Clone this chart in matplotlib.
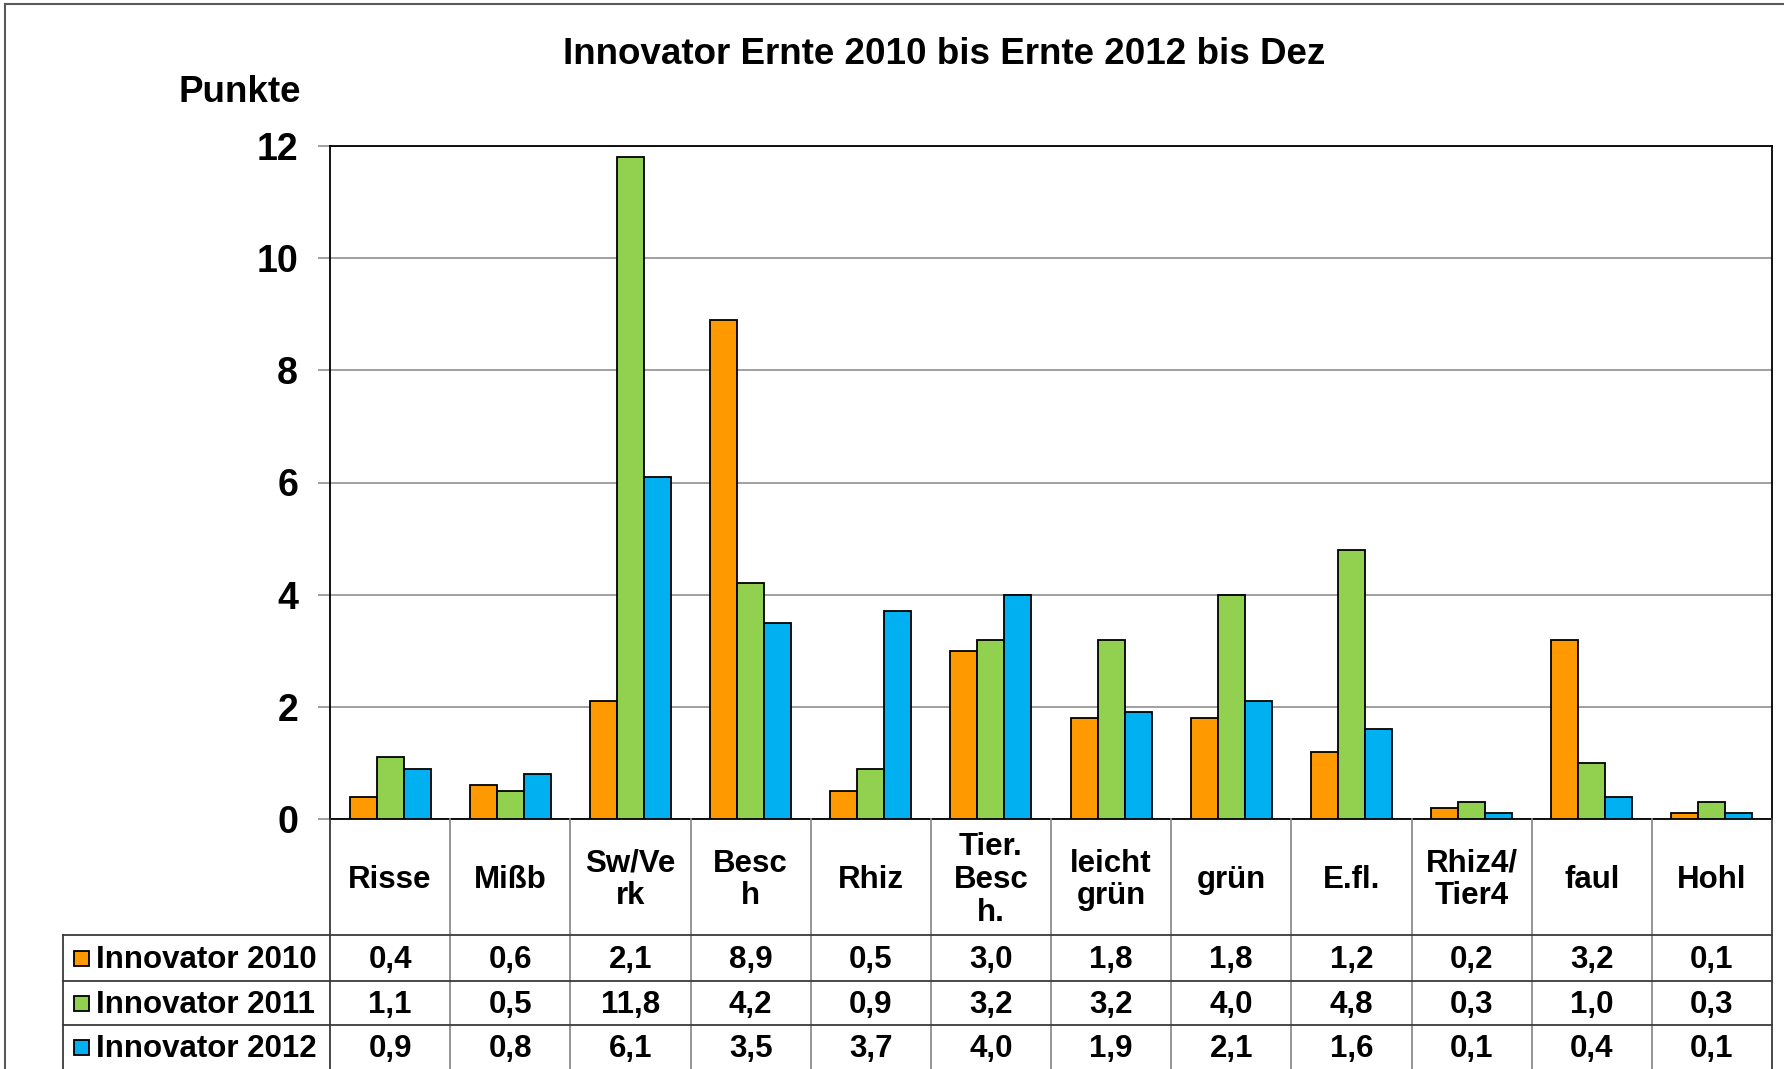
import matplotlib
matplotlib.use("Agg")
import matplotlib.pyplot as plt
from matplotlib.patches import Rectangle
from matplotlib.lines import Line2D

plt.rcParams['font.family'] = ['Liberation Sans', 'DejaVu Sans']
plt.rcParams['font.weight'] = 'bold'

title = "Innovator Ernte 2010 bis Ernte 2012 bis Dez"
ylabel = "Punkte"
categories = ["Risse", "Mißb", "Sw/Ve\nrk", "Besc\nh", "Rhiz", "Tier.\nBesc\nh.",
              "leicht\ngrün", "grün", "E.fl.", "Rhiz4/\nTier4", "faul", "Hohl"]
series_names = ["Innovator 2010", "Innovator 2011", "Innovator 2012"]
v2010 = [0.4, 0.6, 2.1, 8.9, 0.5, 3.0, 1.8, 1.8, 1.2, 0.2, 3.2, 0.1]
v2011 = [1.1, 0.5, 11.8, 4.2, 0.9, 3.2, 3.2, 4.0, 4.8, 0.3, 1.0, 0.3]
v2012 = [0.9, 0.8, 6.1, 3.5, 3.7, 4.0, 1.9, 2.1, 1.6, 0.1, 0.4, 0.1]
yticks = [0, 2, 4, 6, 8, 10, 12]
colors = ["#FF9900", "#92D050", "#00B0F0"]

series = [v2010, v2011, v2012]

W, H = 1784, 1069
fig = plt.figure(figsize=(W / 100, H / 100), dpi=100)

def fx(px):
    return px / W

def fy(py):
    return 1 - py / H

# main axes (pixel layout)
L, R, T, B = 330, 1772, 146, 819
ax = fig.add_axes([fx(L), fy(B), fx(R - L), (B - T) / H])
n = len(categories)
bw = 0.225
for k, (vals, c) in enumerate(zip(series, colors)):
    xs = [i + (k - 1) * bw for i in range(n)]
    ax.bar(xs, vals, width=bw, color=c, edgecolor='black', linewidth=1.3, zorder=3)

ax.set_xlim(-0.5, n - 0.5)
ax.set_ylim(0, 12)
ax.set_yticks(yticks)
ax.set_yticklabels([str(t) for t in yticks], fontsize=27, fontweight='bold')
ax.set_xticks([])
ax.yaxis.grid(True, color='#868686', linewidth=1.1, zorder=0)
ax.set_axisbelow(True)
for s in ['top', 'left', 'bottom', 'right']:
    ax.spines[s].set_color('black')
    ax.spines[s].set_linewidth(1.3)
ax.tick_params(axis='y', length=9, width=1.1, color='#868686', pad=14)

# title and y label
fig.text(fx(944), fy(54), title, fontsize=26.5, fontweight='bold', ha='center', va='center')
fig.text(fx(240), fy(92), ylabel, fontsize=26.5, fontweight='bold', ha='center', va='center')

# table axes
TL = 63
colw = (R - L) / n
x_left = -0.5 - (L - TL) / colw
tab = fig.add_axes([fx(TL), 0, fx(R - TL), (H - B) / H])
tab.set_xlim(x_left, n - 0.5)
tab.set_ylim(H - B, 0)
tab.axis('off')

hdr = 116
rows = [hdr, hdr + 46, hdr + 90, hdr + 134]
bottom = H - B + 5
lc = '#3a3a3a'
gc = '#8c8c8c'
# vertical lines between categories
for k in range(n + 1):
    xk = -0.5 + k
    tab.add_line(Line2D([xk, xk], [0, bottom], color=gc if k not in (0, n) else lc,
                        linewidth=1.3, clip_on=False))
# legend column left border
tab.add_line(Line2D([x_left, x_left], [hdr, bottom], color=lc, linewidth=1.3, clip_on=False))
# horizontal row lines
for yy in rows[:3]:
    tab.add_line(Line2D([x_left, n - 0.5], [yy, yy], color=lc, linewidth=1.3, clip_on=False))

# category labels
for i, cat in enumerate(categories):
    tab.text(i, hdr / 2 + 3, cat, fontsize=22.5, fontweight='bold', ha='center', va='center',
             linespacing=1.12)

# data rows
sq_w = 15 / colw
for r, (name, vals, c) in enumerate(zip(series_names, series, colors)):
    yc = (rows[r] + rows[r + 1]) / 2
    tab.add_patch(Rectangle((x_left + 11 / colw, yc - 7.5), sq_w, 15, facecolor=c,
                            edgecolor='black', linewidth=1.3, clip_on=False))
    tab.text(x_left + 33 / colw, yc + 2, name, fontsize=22.5, fontweight='bold', ha='left', va='center')
    for i, v in enumerate(vals):
        tab.text(i, yc + 2, f"{v:.1f}".replace('.', ','), fontsize=22.5, fontweight='bold',
                 ha='center', va='center')

# outer frame (left and top)
fig.add_artist(Line2D([fx(5), fx(5)], [fy(4), 0], color='#595959', linewidth=1.5))
fig.add_artist(Line2D([fx(5), 1], [fy(4), fy(4)], color='#595959', linewidth=1.5))

fig.savefig("out.png", dpi=100, facecolor='white')
